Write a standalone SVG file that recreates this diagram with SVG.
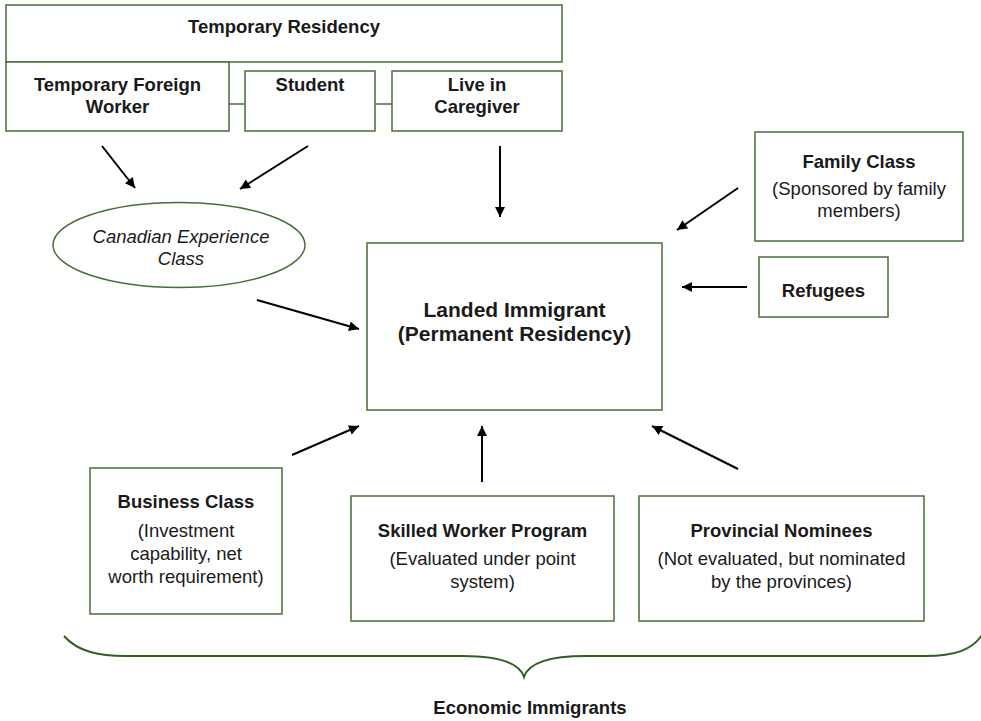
<svg xmlns="http://www.w3.org/2000/svg" width="981" height="721" viewBox="0 0 981 721">
<defs>
<marker id="ah" viewBox="0 0 10 10" refX="10" refY="5" markerWidth="11" markerHeight="10" markerUnits="userSpaceOnUse" orient="auto">
<path d="M0,0 L10,5 L0,10 z" fill="#000"/>
</marker>
<style>
.box{fill:#fff;stroke:#4a6e3a;stroke-width:1.5}
.t{font-family:"Liberation Sans",Arial,sans-serif;font-size:18.5px;fill:#1a1a1a;text-anchor:middle}
.b{font-weight:bold}
.i{font-style:italic}
.arr{stroke:#000;stroke-width:2;fill:none;marker-end:url(#ah)}
.lnk{stroke:#4a6e3a;stroke-width:1.5;fill:none}
</style>
</defs>
<rect width="981" height="721" fill="#fff"/>

<g id="temporary-residency">
<rect class="box" x="6" y="5" width="556" height="57"/>
<text class="t b" x="284" y="33">Temporary Residency</text>
</g>
<g id="tfw">
<rect class="box" x="6" y="62" width="223" height="69"/>
<text class="t b" x="117.5" y="91">Temporary Foreign</text>
<text class="t b" x="117.5" y="113">Worker</text>
</g>
<g id="student">
<rect class="box" x="245" y="71" width="130" height="60"/>
<text class="t b" x="310" y="91">Student</text>
</g>
<g id="caregiver">
<rect class="box" x="392" y="71" width="170" height="60"/>
<text class="t b" x="477" y="91">Live in</text>
<text class="t b" x="477" y="113">Caregiver</text>
</g>
<g id="cec">
<ellipse cx="179" cy="245" rx="126" ry="42.5" fill="#fff" stroke="#4a6e3a" stroke-width="1.5"/>
<text class="t i" x="181" y="243">Canadian Experience</text>
<text class="t i" x="181" y="265">Class</text>
</g>
<g id="landed">
<rect class="box" x="367" y="243" width="295" height="167"/>
<text class="t b" x="514.5" y="317" style="font-size:21px">Landed Immigrant</text>
<text class="t b" x="514.5" y="341" style="font-size:21px">(Permanent Residency)</text>
</g>
<g id="family">
<rect class="box" x="755" y="132" width="208" height="109"/>
<text class="t b" x="859" y="168">Family Class</text>
<text class="t" x="859" y="195">(Sponsored by family</text>
<text class="t" x="859" y="217">members)</text>
</g>
<g id="refugees">
<rect class="box" x="759" y="257" width="129" height="60"/>
<text class="t b" x="823.5" y="297">Refugees</text>
</g>
<g id="business">
<rect class="box" x="90" y="468" width="192" height="146"/>
<text class="t b" x="186" y="508">Business Class</text>
<text class="t" x="186" y="537">(Investment</text>
<text class="t" x="186" y="560">capability, net</text>
<text class="t" x="186" y="583">worth requirement)</text>
</g>
<g id="skilled">
<rect class="box" x="351" y="496" width="263" height="125"/>
<text class="t b" x="482.5" y="537">Skilled Worker Program</text>
<text class="t" x="482.5" y="565">(Evaluated under point</text>
<text class="t" x="482.5" y="588">system)</text>
</g>
<g id="provincial">
<rect class="box" x="639" y="496" width="285" height="125"/>
<text class="t b" x="781.5" y="537">Provincial Nominees</text>
<text class="t" x="781.5" y="565">(Not evaluated, but nominated</text>
<text class="t" x="781.5" y="588">by the provinces)</text>
</g>
<g id="economic">
<path d="M64,636 C78,652 100,656 125,656 L462,656 C500,656 520,664 524,677 C528,664 548,656 586,656 L925,656 C955,656 972,650 982,635" fill="none" stroke="#335f25" stroke-width="2"/>
<text class="t b" x="530" y="714">Economic Immigrants</text>
</g>

<g id="connectors">
<line class="lnk" x1="229" y1="104" x2="245" y2="104"/>
<line class="lnk" x1="375" y1="104" x2="392" y2="104"/>
<line class="arr" x1="102" y1="146" x2="135" y2="188"/>
<line class="arr" x1="308" y1="146" x2="240" y2="189"/>
<line class="arr" x1="500" y1="146" x2="500" y2="217"/>
<line class="arr" x1="257" y1="300" x2="359" y2="329"/>
<line class="arr" x1="738" y1="188" x2="677" y2="230"/>
<line class="arr" x1="747" y1="287" x2="682" y2="287"/>
<line class="arr" x1="292" y1="455" x2="359" y2="426"/>
<line class="arr" x1="482" y1="482" x2="482" y2="426"/>
<line class="arr" x1="738" y1="469" x2="652" y2="426"/>
</g>
</svg>
